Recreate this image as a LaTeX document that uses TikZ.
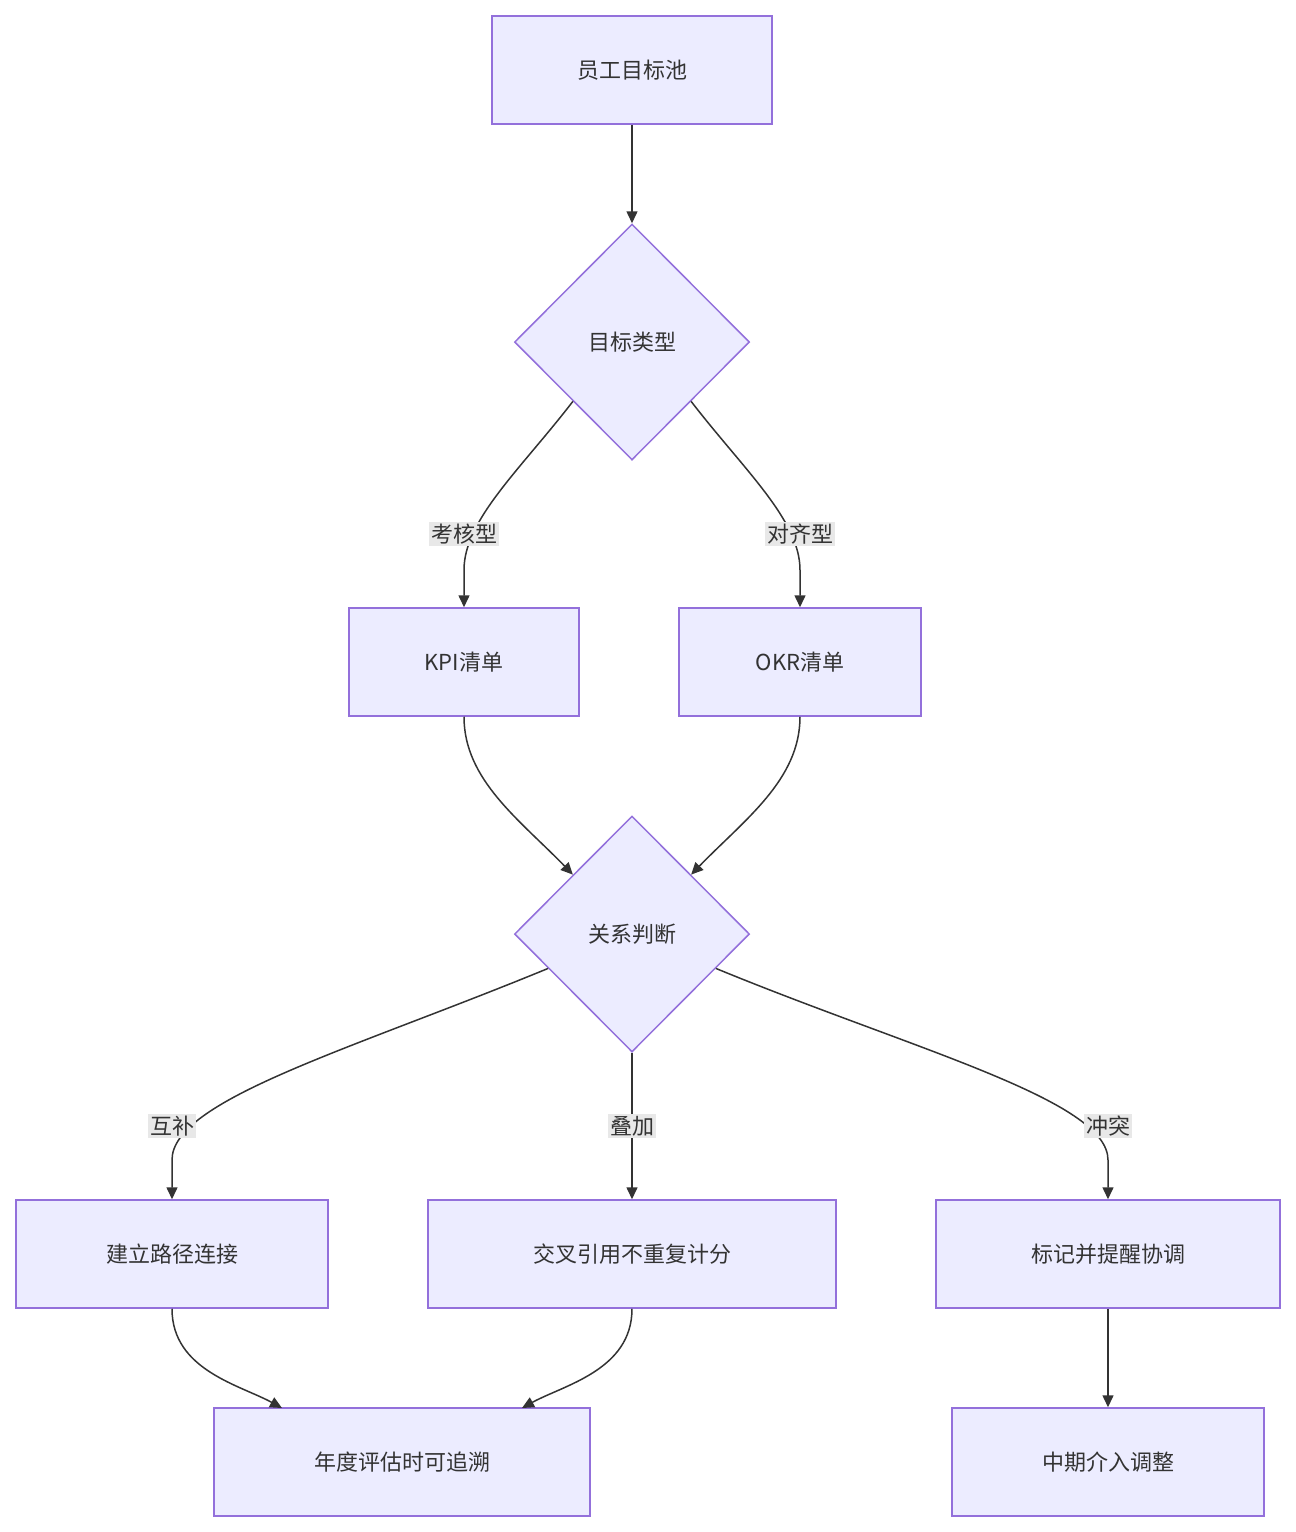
\documentclass[tikz,border=0pt]{standalone}
\usepackage{fontspec}
\setmainfont{Noto Sans CJK SC}
\usetikzlibrary{shapes.geometric,arrows.meta,calc}
\definecolor{bfill}{HTML}{ECECFF}
\definecolor{bdraw}{HTML}{9370DB}
\definecolor{edge}{HTML}{333333}
\definecolor{lbl}{HTML}{E8E8E8}
\begin{document}
\begin{tikzpicture}[x=1pt,y=1pt,
  box/.style={draw=bdraw,fill=bfill,line width=1.5pt,minimum height=108pt,inner sep=0pt,font=\fontsize{22}{26}\selectfont,text=edge},
  dia/.style={draw=bdraw,fill=bfill,line width=1.5pt,diamond,minimum width=235pt,minimum height=236pt,inner sep=0pt,font=\fontsize{22}{26}\selectfont,text=edge},
  arr/.style={draw=edge,line width=1.5pt,-{Triangle[length=12pt,width=11pt]}},
  lab/.style={fill=lbl,inner sep=2pt,font=\fontsize{22}{26}\selectfont,text=edge}]
\useasboundingbox (0,0) rectangle (1296,-1532);
\node[box,minimum width=280pt] (top) at (632,-70) {员工目标池};
\node[dia] (d1) at (632,-342) {目标类型};
\node[box,minimum width=230pt] (kpi) at (464,-662) {KPI清单};
\node[box,minimum width=242pt] (okr) at (800,-662) {OKR清单};
\node[dia] (d2) at (632,-934) {关系判断};
\node[box,minimum width=312pt] (b1) at (172,-1254) {建立路径连接};
\node[box,minimum width=408pt] (b2) at (632,-1254) {交叉引用不重复计分};
\node[box,minimum width=344pt] (b3) at (1108,-1254) {标记并提醒协调};
\node[box,minimum width=376pt] (c1) at (402,-1462) {年度评估时可追溯};
\node[box,minimum width=312pt] (c2) at (1108,-1462) {中期介入调整};
\draw[arr] (top.south) -- (d1.north);
\draw[arr] (d1.south west) .. controls (520,-470) and (464,-520) .. (464,-570) -- (kpi.north);
\draw[arr] (d1.south east) .. controls (744,-470) and (800,-520) .. (800,-570) -- (okr.north);
\draw[arr] (kpi.south) .. controls (464,-780) and (520,-820) .. (d2.north west);
\draw[arr] (okr.south) .. controls (800,-780) and (744,-820) .. (d2.north east);
\coordinate (l1) at ($(d2.west)!0.29!(d2.south)$);
\coordinate (r1) at ($(d2.east)!0.29!(d2.south)$);
\draw[arr] (l1) .. controls (350,-1050) and (172,-1100) .. (172,-1160) -- (b1.north);
\draw[arr] (d2.south) -- (b2.north);
\draw[arr] (r1) .. controls (914,-1050) and (1108,-1100) .. (1108,-1160) -- (b3.north);
\coordinate (c1l) at (282,-1408);
\coordinate (c1r) at (522,-1408);
\draw[arr] (b1.south) .. controls (172,-1370) and (240,-1385) .. (c1l);
\draw[arr] (b2.south) .. controls (632,-1370) and (564,-1385) .. (c1r);
\draw[arr] (b3.south) -- (c2.north);
\node[lab] (t1) at (464,-534) {考核型};
\node[lab] (t2) at (800,-534) {对齐型};
\node[lab] (t3) at (172,-1126) {互补};
\node[lab] (t4) at (632,-1126) {叠加};
\node[lab] (t5) at (1108,-1126) {冲突};
\end{tikzpicture}
\end{document}
